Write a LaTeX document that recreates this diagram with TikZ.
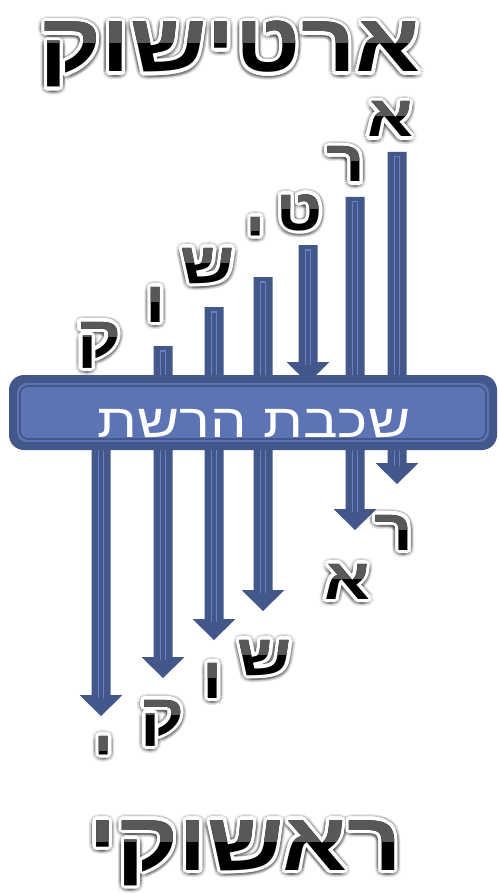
\documentclass[tikz,border=0pt]{standalone}
\usepackage{fontspec}
\usetikzlibrary{calc}
\TeXXeTstate=1
\newfontfamily\heb[Script=Hebrew]{Liberation Sans}
\definecolor{bardark}{RGB}{68,87,139}
\definecolor{barlight}{RGB}{104,128,196}
\definecolor{boxfill}{RGB}{92,116,180}
\definecolor{gloss}{RGB}{88,88,88}
\tikzset{
  gl/.style={anchor=base, inner sep=0pt, outer sep=0pt, xscale=1.16, font=\heb\bfseries\fontsize{#1}{#1}\selectfont},
  boxtext/.style={anchor=base, inner sep=0pt, outer sep=0pt, xscale=1.23, text=white, font=\heb\fontsize{47}{47}\selectfont},
}
% #1 name, #2 x, #3 baseline, #4 font size, #5 letter height, #6 text
\newcommand\gtext[6]{%
  \foreach \ang in {0,20,...,340}{
    \node[gl=#4, text=black, opacity=0.06] (#1s\ang) at ([shift={(\ang:6.5)}] #2,#3+1) {\beginR#6\endR};
    \node[gl=#4, text=black, opacity=0.07] (#1t\ang) at ([shift={(\ang:5)}] #2,#3+1) {\beginR#6\endR};
  }
  \foreach \ang in {0,20,...,340}{
    \node[gl=#4, text=white] (#1w\ang) at ([shift={(\ang:3.2)}] #2,#3) {\beginR#6\endR};
  }
  \node[gl=#4, text=black] (#1) at (#2,#3) {\beginR#6\endR};
  \begin{scope}
    \clip (#2-300,#3-#5-20) rectangle (#2+300,#3-0.5*#5);
    \node[gl=#4, text=gloss] (#1g) at (#2,#3) {\beginR#6\endR};
  \end{scope}
}
% #1 top coordinate, #2 tip coordinate
\newcommand\barrow[2]{%
  \fill[bardark] ($(#1)+(-9.5,0)$) -- ($(#1)+(9.5,0)$) -- ($(#2)+(9.5,-21)$) -- ($(#2)+(21.5,-21)$) -- (#2) -- ($(#2)+(-21.5,-21)$) -- ($(#2)+(-9.5,-21)$) -- cycle;
  \draw[barlight, line width=5.5] ($(#1)+(0,4)$) -- ($(#2)+(0,-18)$);
  \draw[bardark, line width=3.5] ($(#1)+(0,5.5)$) -- ($(#2)+(0,-18)$);
}
\begin{document}
\begin{tikzpicture}[x=1pt,y=-1pt]
\useasboundingbox (0,0) rectangle (498,893);
\fill[white] (0,0) rectangle (498,893);
% arrows
\coordinate (t1) at (397,152); \coordinate (h1) at (397,484);
\coordinate (t2) at (355,197); \coordinate (h2) at (355,530);
\coordinate (t3) at (308,245); \coordinate (h3) at (308,383);
\coordinate (t4) at (263,277); \coordinate (h4) at (263,611);
\coordinate (t5) at (214,307); \coordinate (h5) at (214,640);
\coordinate (t6) at (163,346); \coordinate (h6) at (163,678);
\coordinate (t7) at (101,400); \coordinate (h7) at (101,716);
\barrow{t1}{h1}
\barrow{t2}{h2}
\barrow{t3}{h3}
\barrow{t4}{h4}
\barrow{t5}{h5}
\barrow{t6}{h6}
\barrow{t7}{h7}
% network layer box
\fill[bardark, rounded corners=15] (9,375) rectangle (497,450);
\fill[boxfill, rounded corners=10] (17,383) rectangle (489,442);
\draw[bardark, line width=1.6, rounded corners=8] (20,386) rectangle (486,439);
\node[boxtext] (net) at (254,437) {\beginR שכבת הרשת\endR};
% titles
\gtext{top}{230}{72}{82}{59}{ארטישוק}
\gtext{bottom}{245}{870}{82}{58}{ראשוקי}
% upper letters
\gtext{ua}{390}{137}{58}{42}{א}
\gtext{ur}{346}{182}{58}{42}{ר}
\gtext{ut}{300}{230}{58}{42}{ט}
\gtext{uy}{256}{252}{58}{42}{י}
\gtext{us}{208}{283}{58}{42}{ש}
\gtext{uv}{156}{322}{58}{42}{ו}
\gtext{uq}{99}{357}{58}{42}{ק}
% lower letters
\gtext{lr}{394}{550}{58}{42}{ר}
\gtext{la}{347}{599}{58}{42}{א}
\gtext{ls}{265}{675}{58}{42}{ש}
\gtext{lv}{213}{698}{58}{42}{ו}
\gtext{lq}{162}{735}{58}{42}{ק}
\gtext{ly}{104}{771}{58}{42}{י}
\end{tikzpicture}
\end{document}
